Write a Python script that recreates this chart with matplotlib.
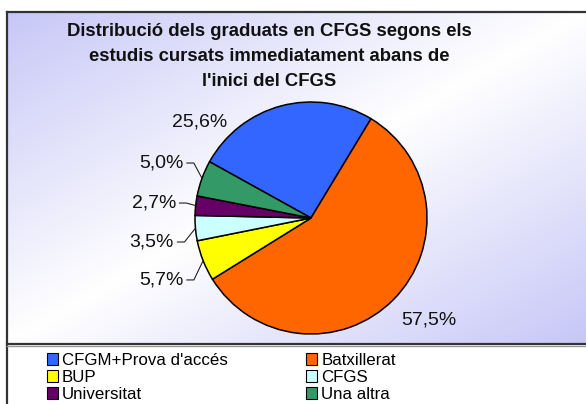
import matplotlib
matplotlib.use('Agg')
import matplotlib.pyplot as plt
from matplotlib.patches import Rectangle
from matplotlib.lines import Line2D
import numpy as np

plt.rcParams['font.family'] = ['Liberation Sans', 'DejaVu Sans']

# data
categories = ["CFGM+Prova d'accés", 'Batxillerat', 'BUP', 'CFGS', 'Universitat', 'Una altra']
values = [25.6, 57.5, 5.7, 3.5, 2.7, 5.0]
labels = ['25,6%', '57,5%', '5,7%', '3,5%', '2,7%', '5,0%']
colors = ['#3366FF', '#FF6600', '#FFFF00', '#CCFFFF', '#660066', '#339966']
title = "Distribució dels graduats en CFGS segons els\nestudis cursats immediatament abans de\nl'inici del CFGS"

W, H = 586, 404
fig = plt.figure(figsize=(W/100, H/100), dpi=100)

def fx(px): return px / W
def fy(py): return 1 - py / H

# gradient background for the chart area
bg = fig.add_axes([fx(7), fy(344), fx(586) - fx(7), fy(12) - fy(344)])
u, v = np.meshgrid(np.linspace(0, 1, 300), np.linspace(0, 1, 200))
s = np.abs((u + v) - 1.0)
lav = np.array([0.78, 0.78, 0.97])
img = (1 - s)[..., None] * np.ones(3) + s[..., None] * lav
bg.imshow(img, aspect='auto', extent=[0, 1, 0, 1], origin='upper')
bg.axis('off')

# frame lines
fig.add_artist(Line2D([fx(7), fx(7)], [fy(12), 0], color='#333333', lw=1.6))
fig.add_artist(Line2D([fx(7), 1], [fy(12), fy(12)], color='#333333', lw=1.6))
fig.add_artist(Line2D([fx(7), 1], [fy(344), fy(344)], color='#333333', lw=1.6))
fig.add_artist(Line2D([fx(7), 1], [fy(346), fy(346)], color='#999999', lw=1.0))

fig.text(fx(269), fy(22.5), title, ha='center', va='top', fontsize=13.3,
         fontweight='bold', linespacing=1.62, color='#111111')

# pie
cx, cy, r = 311, 218, 116
ax = fig.add_axes([fx(cx - r), fy(cy + r), 2 * r / W, 2 * r / H])
wedges, _ = ax.pie(values, colors=colors, startangle=151, counterclock=False,
                   wedgeprops=dict(edgecolor='black', linewidth=1.1))
ax.set_xlim(-1, 1)
ax.set_ylim(-1, 1)
ax.axis('off')

# label placement (radius units)
lab_pos = [(-0.957, 0.828, 'center'), (1.02, -0.88, 'center'),
           (-1.10, -0.534, 'right'), (-1.181, -0.207, 'right'),
           (-1.164, 0.129, 'right'), (-1.10, 0.474, 'right')]
for w, lab, (lx, ly, ha) in zip(wedges, labels, lab_pos):
    ax.text(lx, ly, lab, ha=ha, va='center', fontsize=14, color='#111111', clip_on=False)
    if ha == 'right':
        th = np.deg2rad((w.theta1 + w.theta2) / 2)
        ex, ey = np.cos(th), np.sin(th)
        x0 = lx + 0.03
        ax.plot([x0, x0 + 0.06, ex], [ly, ly, ey], color='#222222', lw=0.8, clip_on=False)

# legend
order = [0, 2, 4, 1, 3, 5]
handles = [Rectangle((0, 0), 1, 1, facecolor=colors[i], edgecolor='black', lw=0.8) for i in order]
fig.legend(handles, [categories[i] for i in order], ncol=2, loc='upper left',
           bbox_to_anchor=(fx(35), fy(341)), frameon=False, fontsize=12.2,
           handlelength=0.65, handleheight=0.65, handletextpad=0.25,
           columnspacing=4.6, labelspacing=0.12, borderpad=0.2)

fig.savefig('out.png', dpi=100)
